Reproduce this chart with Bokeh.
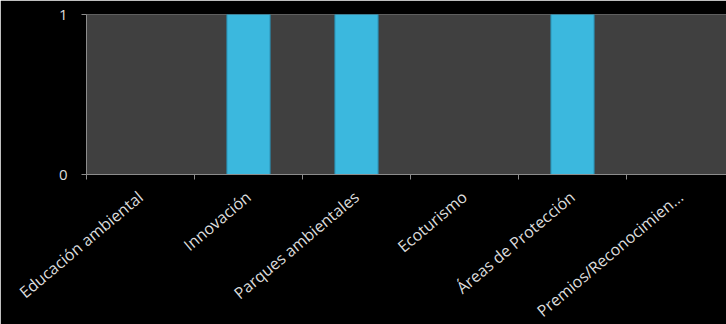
import math
from bokeh.plotting import figure
from bokeh.models import Range1d, FixedTicker, ColumnDataSource
from bokeh.embed import file_html
from bokeh.resources import INLINE

categories = ["Educación ambiental", "Innovación", "Parques ambientales",
              "Ecoturismo", "Áreas de Protección", "Premios/Reconocimien..."]
values = [0, 1, 1, 0, 1, 0]
y_ticks = [0, 1]

xs = list(range(len(categories)))
src = ColumnDataSource(dict(x=xs, top=values))

p = figure(frame_width=640, frame_height=160, output_backend="svg", toolbar_location=None,
           x_range=Range1d(-0.5, -0.5 + 640 / 108), y_range=Range1d(0, 1),
           min_border_left=86, min_border_right=0, min_border_top=14, min_border_bottom=150)
p.background_fill_color = "#404040"
p.border_fill_color = "#000000"
p.outline_line_color = None

p.vbar(x="x", top="top", width=0.4, bottom=0, source=src,
       fill_color="#3bb8de", line_color="#2a8cae", line_width=1)

font = "Open Sans"
# x axis
xa = p.xaxis[0]
xa.ticker = FixedTicker(ticks=xs, minor_ticks=[i - 0.5 for i in range(len(categories) + 1)])
xa.major_label_overrides = {i: c for i, c in zip(xs, categories)}
xa.major_label_orientation = math.radians(40)
xa.major_tick_line_color = None
xa.major_tick_out = 0
xa.minor_tick_line_color = "#8c8c8c"
xa.minor_tick_out = 5
xa.minor_tick_in = 0
xa.axis_line_color = "#8c8c8c"
xa.major_label_text_color = "#dcdcdc"
xa.major_label_text_font = font
xa.major_label_text_font_size = "16px"
xa.major_label_standoff = 15

ya = p.yaxis[0]
ya.ticker = FixedTicker(ticks=y_ticks)
ya.axis_line_color = "#8c8c8c"
ya.major_tick_line_color = "#8c8c8c"
ya.major_tick_out = 5
ya.major_tick_in = 0
ya.minor_tick_line_color = None
ya.major_label_text_color = "#dcdcdc"
ya.major_label_text_font = font
ya.major_label_text_font_size = "15px"
ya.major_label_standoff = 14

p.xgrid.grid_line_color = None
p.ygrid.grid_line_color = "#8c8c8c"
p.ygrid.ticker = FixedTicker(ticks=y_ticks)

html = file_html(p, INLINE)
html = html.replace("<body>", '<body style="background:#000;overflow:hidden;">', 1)
open("out.html", "w").write(html)
